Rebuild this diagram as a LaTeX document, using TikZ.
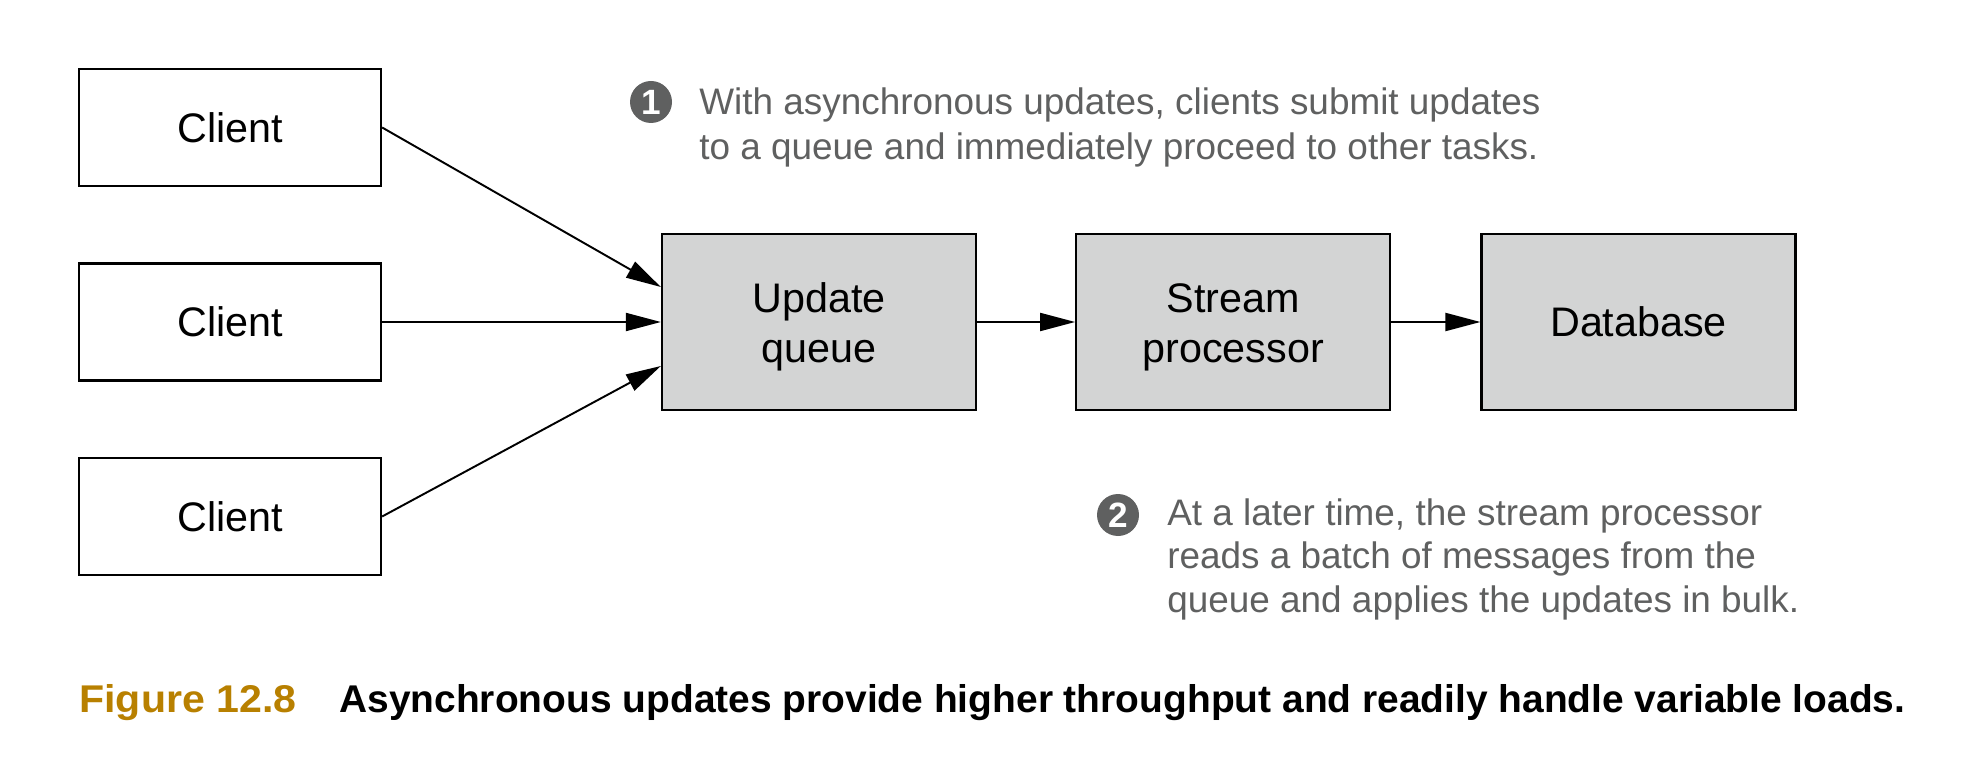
\documentclass[tikz,border=0pt]{standalone}
\usepackage{fontspec}
\setmainfont{Liberation Sans}
\usetikzlibrary{arrows.meta,positioning}
\definecolor{BoxClr}{RGB}{211,212,212}
\definecolor{NoteClr}{RGB}{95,96,96}
\definecolor{FigClr}{RGB}{184,128,0}

\begin{document}
\begin{tikzpicture}[
  box/.style={draw=black,line width=1.3pt,minimum width=6.04cm,minimum height=2.34cm,
    inner sep=0pt,align=center,font=\fontsize{23.5}{28.5}\selectfont},
  proc/.style={box,fill=BoxClr,minimum width=6.28cm,minimum height=3.52cm},
  flow/.style={-{Triangle[length=0.7cm,width=0.36cm]},line width=1.1pt},
  bullet/.style={circle,fill=NoteClr,text=white,minimum size=0.84cm,inner sep=0pt,
    font=\bfseries\fontsize{20}{20}\selectfont},
  note/.style={anchor=base west,align=left,inner sep=0pt,text=NoteClr,
    font=\fontsize{21}{26}\selectfont}
]
\useasboundingbox (0,0) rectangle (39.48,-15.68);

\node[box] (c1) at (4.6,-2.55) {Client};
\node[box] (c2) at (4.6,-6.44) {Client};
\node[box] (c3) at (4.6,-10.33) {Client};

\node[proc] (uq) at (16.38,-6.44) {\\[-0.2cm]Update\\queue};
\node[proc,right=1.96cm of uq] (sp) {\\[-0.2cm]Stream\\processor};
\node[proc,right=1.78cm of sp] (db) {Database};

\draw[flow] (c1.east) -- ([yshift=0.7cm]uq.west);
\draw[flow] (c2.east) -- (uq.west);
\draw[flow] (c3.east) -- ([yshift=-0.88cm]uq.west);
\draw[flow] (uq.east) -- (sp.west);
\draw[flow] (sp.east) -- (db.west);

\node[bullet] (b1) at (13.02,-2.04) {1};
\node[note] (n1) at (13.98,-3.20) {With asynchronous updates, clients submit updates\\
  to a queue and immediately proceed to other tasks.};

\node[bullet] (b2) at (22.36,-10.30) {2};
\node[note,font=\fontsize{21}{24.5}\selectfont] (n2) at (23.34,-12.24) {At a later time, the stream processor\\
  reads a batch of messages from the\\queue and applies the updates in bulk.};

\node[anchor=base west,inner sep=0pt,text=FigClr,font=\bfseries\fontsize{22}{22}\selectfont]
  (fig) at (1.58,-14.24) {\resizebox{4.34cm}{\height}{Figure 12.8}};
\node[anchor=base west,inner sep=0pt,font=\bfseries\fontsize{22}{22}\selectfont]
  (cap) at (6.78,-14.24) {\resizebox{31.32cm}{\height}{Asynchronous updates provide higher throughput and readily handle variable loads.}};

\end{tikzpicture}
\end{document}
